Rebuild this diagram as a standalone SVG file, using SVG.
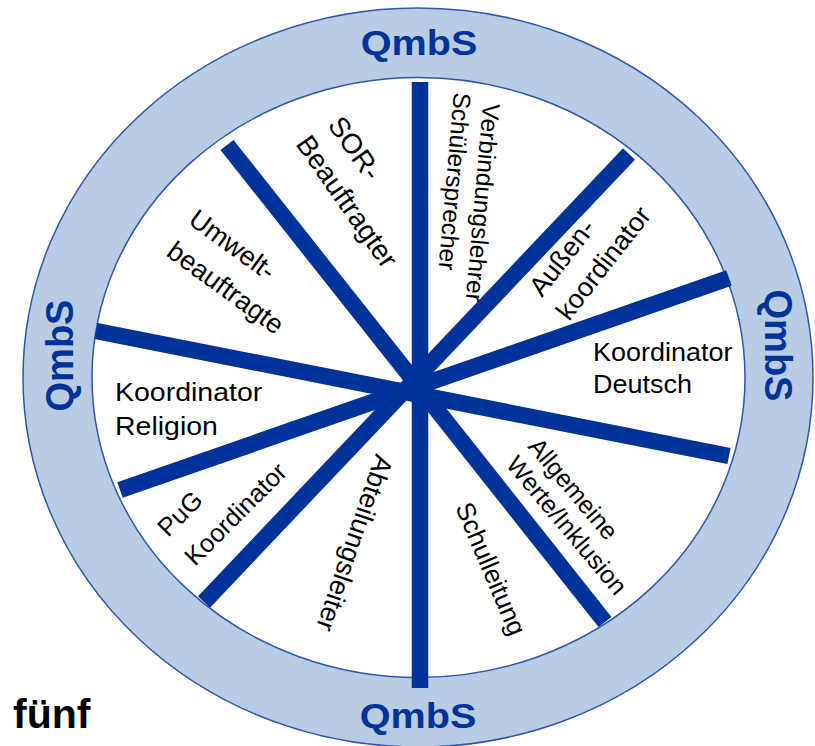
<svg xmlns="http://www.w3.org/2000/svg" width="815" height="746" viewBox="0 0 815 746">
<style>
.lbl{font-family:"Liberation Sans",Arial,sans-serif;fill:#000000}
.q{font-family:"Liberation Sans",Arial,sans-serif;font-weight:bold;fill:#003399;font-size:36px}
.spoke{stroke:#003399;stroke-width:16.5;stroke-linecap:butt;fill:none}
.edge{stroke:#2F55B0;stroke-width:1.5}
</style>
<rect x="0" y="0" width="815" height="746" fill="#ffffff"/>
<g id="ring">
<ellipse cx="418" cy="377.5" rx="395" ry="369.5" fill="#B8CCE4" class="edge"/>
<ellipse cx="418.5" cy="377.5" rx="326.5" ry="300" fill="#ffffff" class="edge"/>
</g>
<g id="connectors">
<line class="spoke" x1="420" y1="82" x2="420" y2="688"/>
<line class="spoke" x1="227" y1="145" x2="605" y2="622"/>
<line class="spoke" x1="629" y1="154" x2="204" y2="602"/>
<line class="spoke" x1="729" y1="278" x2="120" y2="490"/>
<line class="spoke" x1="96" y1="331" x2="729" y2="456"/>
</g>
<g id="qmbs-top"><text class="q" text-anchor="middle" transform="translate(419,55) scale(1.1,1)">QmbS</text></g>
<g id="qmbs-bottom"><text class="q" text-anchor="middle" transform="translate(418,728) scale(1.1,1)">QmbS</text></g>
<g id="qmbs-left"><text class="q" text-anchor="middle" style="font-size:38px" transform="translate(73,355.5) rotate(-90)">QmbS</text></g>
<g id="qmbs-right"><text class="q" text-anchor="middle" style="font-size:38px" transform="translate(765,345.5) rotate(90)">QmbS</text></g>
<g id="verbindungslehrer">
<text class="lbl" font-size="24.5" transform="translate(483,103) rotate(95)">Verbindungslehrer</text>
<text class="lbl" font-size="24.5" transform="translate(454,92) rotate(95)">Schülersprecher</text>
</g>
<g id="sor">
<text class="lbl" font-size="28" transform="translate(327,125) rotate(55)">SOR-</text>
<text class="lbl" font-size="28" transform="translate(295,144) rotate(55)">Beauftragter</text>
</g>
<g id="umwelt">
<text class="lbl" font-size="27" transform="translate(187,223) rotate(36)">Umwelt-</text>
<text class="lbl" font-size="27" transform="translate(165,255) rotate(36)">beauftragte</text>
</g>
<g id="aussen">
<text class="lbl" font-size="27" transform="translate(542,298) rotate(-52)">Außen-</text>
<text class="lbl" font-size="27" transform="translate(569,322) rotate(-52)">koordinator</text>
</g>
<g id="deutsch">
<text class="lbl" font-size="25" transform="translate(593,361) scale(1.08,1)"><tspan x="0" y="0">Koordinator</tspan><tspan x="0" y="32">Deutsch</tspan></text>
</g>
<g id="allgemeine">
<text class="lbl" font-size="25" transform="translate(527,447) rotate(50)">Allgemeine</text>
<text class="lbl" font-size="25" transform="translate(505,465) rotate(50)">Werte/Inklusion</text>
</g>
<g id="schulleitung">
<text class="lbl" font-size="26" transform="translate(455,507) rotate(67)">Schulleitung</text>
</g>
<g id="abteilungsleiter">
<text class="lbl" font-size="27" transform="translate(376,453) rotate(109)">Abteilungsleiter</text>
</g>
<g id="pug">
<text class="lbl" font-size="25.6" transform="translate(168,538) rotate(-45)">PuG</text>
<text class="lbl" font-size="25.6" transform="translate(195,567) rotate(-45)">Koordinator</text>
</g>
<g id="religion">
<text class="lbl" font-size="25" transform="translate(115,401) scale(1.14,1)"><tspan x="0" y="0">Koordinator</tspan><tspan x="0" y="34">Religion</tspan></text>
</g>
<g id="fuenf">
<text class="lbl" font-size="41" font-weight="bold" x="13" y="728">fünf</text>
</g>
</svg>
